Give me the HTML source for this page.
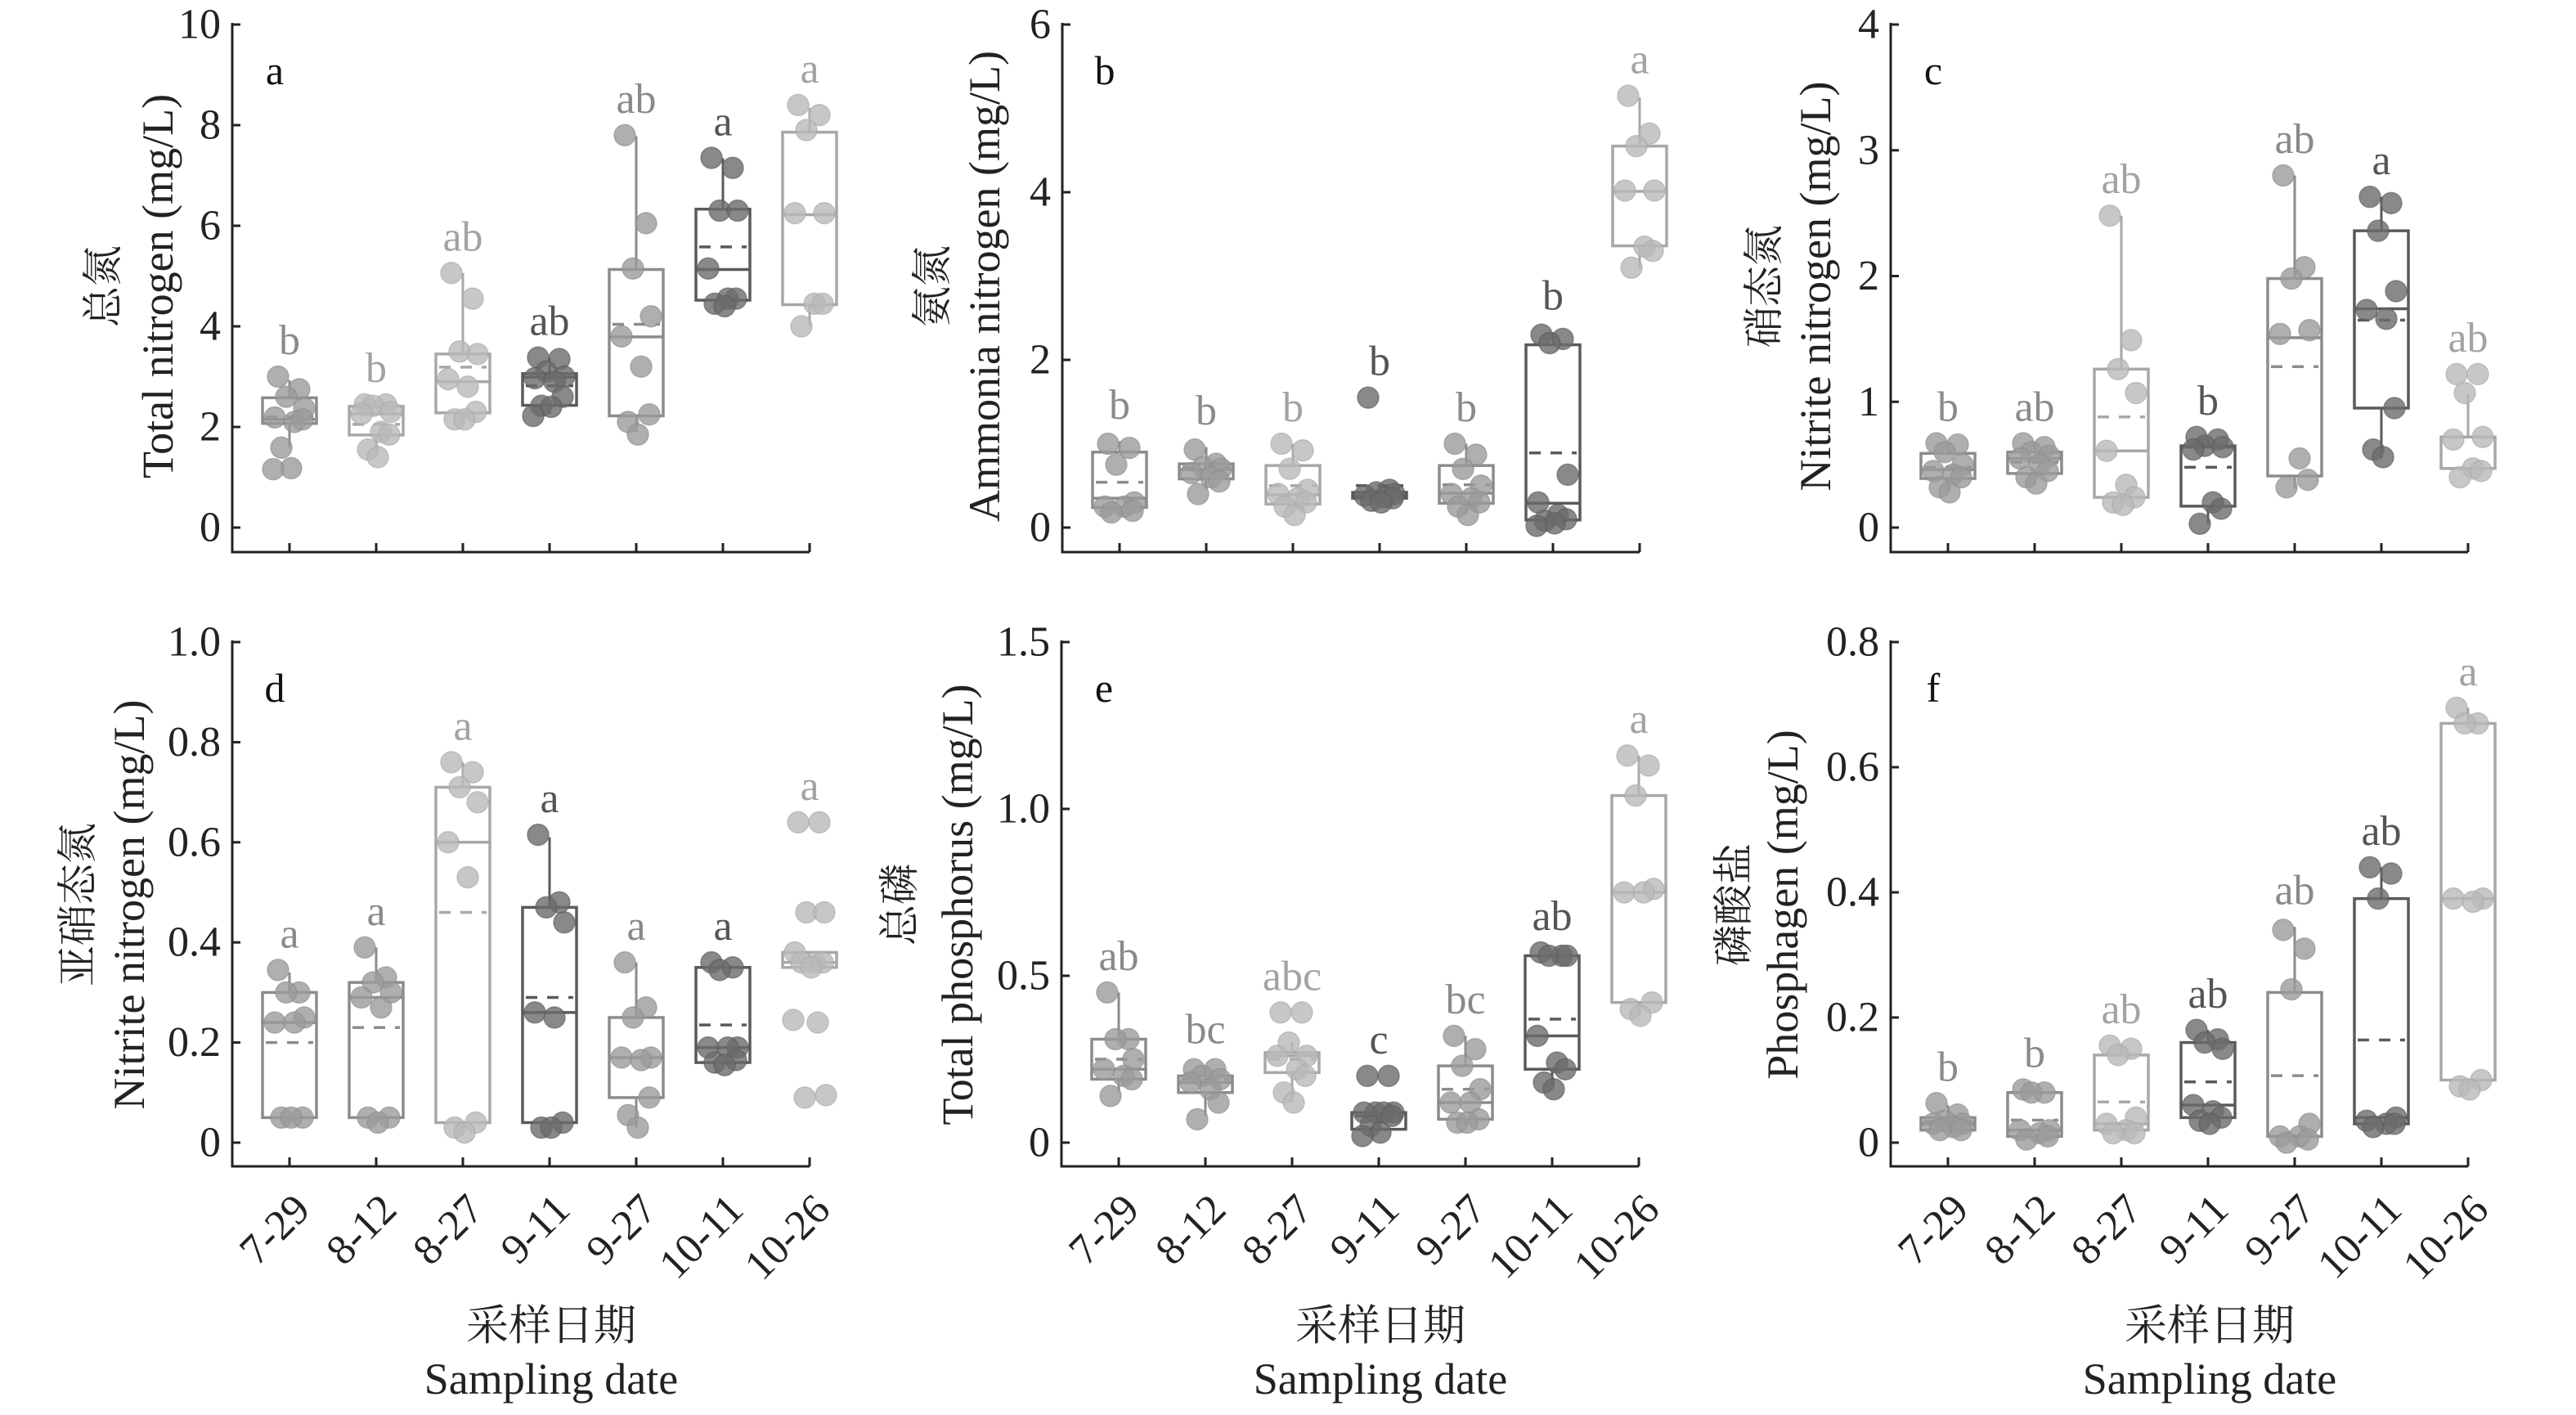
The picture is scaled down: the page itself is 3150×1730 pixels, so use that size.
<!DOCTYPE html>
<html><head><meta charset="utf-8"><style>
html,body{margin:0;padding:0;background:#fff;}
svg text{font-family:"Liberation Serif","Noto Serif CJK SC","Noto Sans CJK SC",serif;}
</style></head><body>
<svg id="chart" xmlns="http://www.w3.org/2000/svg" width="3150" height="1725" viewBox="0 0 3150 1725"></svg>
<script>
const categories = ["7-29","8-12","8-27","9-11","9-27","10-11","10-26"];

// Panel a: Total nitrogen
const A_q1 = [2.07,1.84,2.28,2.43,2.22,4.52,4.43];
const A_med = [2.15,2.26,2.9,2.99,3.79,5.13,6.22];
const A_q3 = [2.58,2.41,3.45,3.06,5.13,6.33,7.86];
const A_mean = [2.2,2.05,3.19,2.82,4.04,5.58,null];
const A_lo = [1.59,1.5,2.1,2.26,1.89,4.4,3.99];
const A_hi = [2.93,2.45,5.06,3.38,7.78,7.34,8.34];
const A_pts = [[3.0,2.75,2.6,2.37,2.19,2.1,2.15,1.59,1.18,1.16],[2.45,2.45,2.42,2.3,2.26,1.9,1.85,1.55,1.4],[5.06,4.55,3.5,3.45,2.95,2.8,2.3,2.15,2.15],[3.38,3.35,3.1,3.0,2.97,2.9,2.6,2.42,2.4,2.22],[7.8,6.05,5.15,4.2,3.8,3.2,2.25,2.1,1.85],[7.35,7.15,6.3,6.3,5.15,4.55,4.55,4.45,4.4],[8.4,8.2,7.9,6.25,6.25,4.45,4.45,4.0]];
const A_letters = ["b","b","ab","ab","ab","a","a"];
const A_ticks = [0,2,4,6,8,10];

// Panel b: Ammonia nitrogen
const B_q1 = [0.24,0.58,0.28,0.35,0.29,0.09,3.36];
const B_med = [0.35,0.69,0.39,0.38,0.41,0.29,4.01];
const B_q3 = [0.9,0.76,0.74,0.42,0.74,2.18,4.55];
const B_mean = [0.54,0.72,0.5,0.5,0.51,0.89,null];
const B_lo = [0.18,0.45,0.16,0.35,0.16,0.0,3.09];
const B_hi = [1.03,0.96,1.0,0.42,1.0,2.33,5.13];
const B_pts = [[1.0,0.95,0.75,0.3,0.25,0.25,0.2,0.18],[0.93,0.76,0.72,0.7,0.65,0.6,0.55,0.4],[1.0,0.92,0.7,0.45,0.4,0.35,0.3,0.25,0.15],[1.55,0.45,0.42,0.4,0.38,0.36,0.35,0.32,0.3],[1.0,0.87,0.7,0.5,0.4,0.35,0.3,0.25,0.15],[2.3,2.25,2.2,0.63,0.3,0.15,0.1,0.08,0.05,0.02],[5.15,4.7,4.55,4.02,4.02,3.35,3.3,3.1]];
const B_letters = ["b","b","b","b","b","b","a"];
const B_ticks = [0,2,4,6];

// Panel c: Nitrate nitrogen
const C_q1 = [0.39,0.43,0.24,0.17,0.41,0.95,0.47];
const C_med = [0.46,0.55,0.61,0.64,1.51,1.74,0.72];
const C_q3 = [0.59,0.6,1.26,0.65,1.98,2.36,0.72];
const C_mean = [0.48,0.52,0.88,0.48,1.28,1.65,null];
const C_lo = [0.3,0.34,0.15,0.03,0.31,0.55,0.47];
const C_hi = [0.67,0.67,2.48,0.72,2.8,2.63,1.06];
const C_pts = [[0.67,0.66,0.6,0.5,0.45,0.42,0.4,0.32,0.28],[0.67,0.64,0.6,0.57,0.55,0.5,0.45,0.4,0.35],[2.48,1.49,1.26,1.07,0.61,0.34,0.24,0.2,0.18],[0.72,0.7,0.65,0.64,0.62,0.2,0.15,0.03],[2.8,2.07,1.98,1.57,1.54,0.55,0.38,0.32],[2.63,2.58,2.36,1.88,1.73,1.66,0.95,0.62,0.56],[1.22,1.22,1.07,0.72,0.7,0.47,0.45,0.4]];
const C_letters = ["b","ab","ab","b","ab","a","ab"];
const C_ticks = [0,1,2,3,4];

// Panel d: Nitrite nitrogen
const D_q1 = [0.05,0.05,0.04,0.04,0.09,0.16,0.35];
const D_med = [0.24,0.29,0.6,0.26,0.17,0.19,0.36];
const D_q3 = [0.3,0.32,0.71,0.47,0.25,0.35,0.38];
const D_mean = [0.2,0.23,0.46,0.29,null,0.235,null];
const D_lo = [0.05,0.04,0.03,0.03,0.03,0.155,0.35];
const D_hi = [0.34,0.39,0.76,0.61,0.36,0.36,0.38];
const D_pts = [[0.345,0.3,0.3,0.25,0.24,0.24,0.05,0.05,0.05],[0.39,0.33,0.32,0.3,0.29,0.27,0.05,0.05,0.04],[0.76,0.74,0.71,0.68,0.6,0.53,0.04,0.03,0.02],[0.615,0.48,0.47,0.44,0.26,0.25,0.04,0.03,0.03],[0.36,0.27,0.25,0.17,0.17,0.165,0.09,0.055,0.03],[0.36,0.35,0.345,0.19,0.19,0.19,0.165,0.16,0.155],[0.64,0.64,0.46,0.46,0.38,0.36,0.36,0.36,0.35,0.245,0.24,0.095,0.09]];
const D_letters = ["a","a","a","a","a","a","a"];
const D_ticks = [0,0.2,0.4,0.6,0.8,1.0];

// Panel e: Total phosphorus
const E_q1 = [0.19,0.15,0.21,0.04,0.07,0.22,0.42];
const E_med = [0.22,0.18,0.26,0.09,0.12,0.32,0.75];
const E_q3 = [0.31,0.2,0.27,0.09,0.23,0.56,1.04];
const E_mean = [0.25,0.19,0.25,0.08,0.16,0.37,null];
const E_lo = [0.15,0.08,0.12,0.04,0.05,0.17,0.38];
const E_hi = [0.45,0.23,0.3,0.09,0.32,0.56,1.16];
const E_pts = [[0.45,0.31,0.31,0.25,0.22,0.2,0.19,0.14],[0.22,0.22,0.2,0.19,0.18,0.16,0.12,0.07],[0.39,0.39,0.3,0.26,0.26,0.22,0.2,0.15,0.12],[0.2,0.2,0.09,0.09,0.09,0.09,0.08,0.05,0.03,0.02],[0.32,0.28,0.23,0.16,0.12,0.12,0.07,0.06,0.06],[0.57,0.56,0.56,0.56,0.32,0.24,0.22,0.18,0.16],[1.16,1.13,1.04,0.76,0.75,0.75,0.42,0.4,0.38]];
const E_letters = ["ab","bc","abc","c","bc","ab","a"];
const E_ticks = [0,0.5,1.0,1.5];

// Panel f: Phosphate
const F_q1 = [0.02,0.01,0.02,0.04,0.01,0.03,0.1];
const F_med = [0.03,0.02,0.03,0.06,0.01,0.04,0.39];
const F_q3 = [0.04,0.08,0.14,0.16,0.24,0.39,0.67];
const F_mean = [0.034,0.036,0.065,0.097,0.107,0.164,null];
const F_lo = [0.02,0.005,0.015,0.03,0.0,0.025,0.09];
const F_hi = [0.06,0.085,0.155,0.18,0.345,0.44,0.695];
const F_pts = [[0.063,0.045,0.035,0.03,0.03,0.025,0.02,0.02],[0.085,0.08,0.08,0.02,0.02,0.015,0.01,0.005],[0.155,0.15,0.14,0.04,0.03,0.02,0.015,0.015],[0.18,0.165,0.16,0.15,0.06,0.05,0.04,0.035,0.03],[0.34,0.31,0.245,0.03,0.01,0.01,0.005,0.0],[0.44,0.43,0.39,0.04,0.035,0.03,0.03,0.025],[0.695,0.67,0.67,0.39,0.39,0.385,0.1,0.09,0.085]];
const F_letters = ["b","b","ab","ab","ab","ab","a"];
const F_ticks = [0,0.2,0.4,0.6,0.8];

const SHADES = {
  L:{fill:"#b9b9b9",line:"#a8a8a8",text:"#a3a3a3"},
  M:{fill:"#9b9b9b",line:"#8c8c8c",text:"#8a8a8a"},
  D:{fill:"#6b6b6b",line:"#5a5a5a",text:"#555555"}
};
const JIT = [-14,12,-4,18,-18,6,16,-10,2,-20,10,20,-6];

const panels = [
 {id:"a",ax:284,top:true,max:10,ticks:A_ticks,q1:A_q1,med:A_med,q3:A_q3,mean:A_mean,lo:A_lo,hi:A_hi,pts:A_pts,let:A_letters,shade:["M","L","L","D","M","D","L"],cn:"总氮",en:"Total nitrogen (mg/L)",cnx:158,enx:91},
 {id:"b",ax:1299,top:true,max:6,ticks:B_ticks,q1:B_q1,med:B_med,q3:B_q3,mean:B_mean,lo:B_lo,hi:B_hi,pts:B_pts,let:B_letters,shade:["M","M","L","D","M","D","L"],cn:"氨氮",en:"Ammonia nitrogen (mg/L)",cnx:159,enx:95},
 {id:"c",ax:2312,top:true,max:4,ticks:C_ticks,q1:C_q1,med:C_med,q3:C_q3,mean:C_mean,lo:C_lo,hi:C_hi,pts:C_pts,let:C_letters,shade:["M","M","L","D","M","D","L"],cn:"硝态氮",en:"Nitrite nitrogen (mg/L)",cnx:155,enx:92},
 {id:"d",ax:284,top:false,max:1.0,ticks:D_ticks,q1:D_q1,med:D_med,q3:D_q3,mean:D_mean,lo:D_lo,hi:D_hi,pts:D_pts,let:D_letters,shade:["M","M","L","D","M","D","L"],cn:"亚硝态氮",en:"Nitrite nitrogen (mg/L)",cnx:189,enx:126},
 {id:"e",ax:1298,top:false,max:1.5,ticks:E_ticks,q1:E_q1,med:E_med,q3:E_q3,mean:E_mean,lo:E_lo,hi:E_hi,pts:E_pts,let:E_letters,shade:["M","M","L","D","M","D","L"],cn:"总磷",en:"Total phosphorus (mg/L)",cnx:198,enx:127},
 {id:"f",ax:2312,top:false,max:0.8,ticks:F_ticks,q1:F_q1,med:F_med,q3:F_q3,mean:F_mean,lo:F_lo,hi:F_hi,pts:F_pts,let:F_letters,shade:["M","M","L","D","M","D","L"],cn:"磷酸盐",en:"Phosphagen (mg/L)",cnx:192,enx:132}
];

const NS = "http://www.w3.org/2000/svg";
const svg = document.getElementById("chart");
function mk(tag, attrs, parent){
  const e = document.createElementNS(NS, tag);
  for (const k in attrs) e.setAttribute(k, attrs[k]);
  (parent||svg).appendChild(e);
  return e;
}

panels.forEach(p=>{
  const y0 = p.top ? 645 : 1397;
  const yT = p.top ? 30 : 785;
  const xAxisY = p.top ? 675 : 1426;
  const yS = v => y0 - (v / p.max) * (y0 - yT);
  const xS = i => p.ax + 70 + i * 106;
  const g = mk("g", {});
  
  

  // axes
  const yAxis = mk("line", {x1:p.ax,y1:yT-2,x2:p.ax,y2:xAxisY,stroke:"#222","stroke-width":3}, g);
  
  
  const xAxis = mk("line", {x1:p.ax-1.5,y1:xAxisY,x2:xS(6),y2:xAxisY,stroke:"#222","stroke-width":3}, g);
  
  

  p.ticks.forEach(t=>{
    const y = yS(t);
    mk("line",{x1:p.ax,y1:y,x2:p.ax+10,y2:y,stroke:"#222","stroke-width":3},g);
    const lab = mk("text",{x:p.ax-14,y:y,"text-anchor":"end","dominant-baseline":"central","font-size":52,fill:"#222"},g);
    
    
    lab.textContent = (p.max <= 1.5 && t !== 0) ? t.toFixed(1) : String(t);
  });

  categories.forEach((c,i)=>{
    const x = xS(i);
    mk("line",{x1:x,y1:xAxisY,x2:x,y2:xAxisY-11,stroke:"#222","stroke-width":3},g);
    if(!p.top){
      const ax = x + 16, ay = xAxisY + 44;
      const lab = mk("text",{x:ax,y:ay,"text-anchor":"end","dominant-baseline":"central","font-size":52,fill:"#222",transform:`rotate(-45 ${ax} ${ay})`},g);
      
      
      lab.textContent = c;
    }
  });

  // panel letter
  const pl = mk("text",{x:p.ax+52,y:yT+56,"text-anchor":"middle","dominant-baseline":"central","font-size":50,fill:"#111"},g);
  
  
  pl.textContent = p.id;

  // y titles
  const cy = p.top ? 350 : 1106;
  const cx = p.ax - p.cnx, ex = p.ax - p.enx;
  const ct = mk("text",{x:cx,y:cy,"text-anchor":"middle","dominant-baseline":"central","font-size":50,fill:"#222",transform:`rotate(-90 ${cx} ${cy})`},g);
  
  
  ct.textContent = p.cn;
  const et = mk("text",{x:ex,y:cy,"text-anchor":"middle","dominant-baseline":"central","font-size":54,fill:"#222",transform:`rotate(-90 ${ex} ${cy})`},g);
  
  
  et.textContent = p.en;

  if(!p.top){
    const mx = p.ax + 390;
    const t1 = mk("text",{x:mx,y:1622,"text-anchor":"middle","dominant-baseline":"central","font-size":52,fill:"#222"},g);
    
    
    t1.textContent = "采样日期";
    const t2 = mk("text",{x:mx,y:1686,"text-anchor":"middle","dominant-baseline":"central","font-size":54,fill:"#222"},g);
    
    
    t2.textContent = "Sampling date";
  }

  // boxes
  categories.forEach((c,i)=>{
    const sh = SHADES[p.shade[i]];
    const x = xS(i), hw = 33;
    const bg = mk("g",{},g);
    
    
    mk("line",{x1:x,y1:yS(p.hi[i]),x2:x,y2:yS(p.q3[i]),stroke:sh.line,"stroke-width":3},bg);
    mk("line",{x1:x,y1:yS(p.q1[i]),x2:x,y2:yS(p.lo[i]),stroke:sh.line,"stroke-width":3},bg);
    const y3 = yS(p.q3[i]), y1 = yS(p.q1[i]);
    mk("rect",{x:x-hw,y:y3,width:hw*2,height:Math.max(1,y1-y3),fill:"none",stroke:sh.line,"stroke-width":3.5},bg);
    mk("line",{x1:x-hw,y1:yS(p.med[i]),x2:x+hw,y2:yS(p.med[i]),stroke:sh.line,"stroke-width":3.5},bg);
    if(p.mean[i]!==null){
      mk("line",{x1:x-hw+4,y1:yS(p.mean[i]),x2:x+hw-4,y2:yS(p.mean[i]),stroke:sh.line,"stroke-width":3.5,"stroke-dasharray":"14 12"},bg);
    }
    p.pts[i].forEach((v,k)=>{
      const dot = mk("circle",{cx:x+JIT[k%JIT.length],cy:yS(v),r:13,fill:sh.fill,"fill-opacity":0.8,stroke:sh.line,"stroke-opacity":0.6,"stroke-width":1.5},bg);
      
      
    });
    const top = Math.max(p.hi[i], ...p.pts[i]);
    const lt = mk("text",{x:x,y:yS(top)-44,"text-anchor":"middle","dominant-baseline":"central","font-size":52,fill:sh.text},bg);
    
    
    lt.textContent = p.let[i];
  });
});
</script>
</body></html>
